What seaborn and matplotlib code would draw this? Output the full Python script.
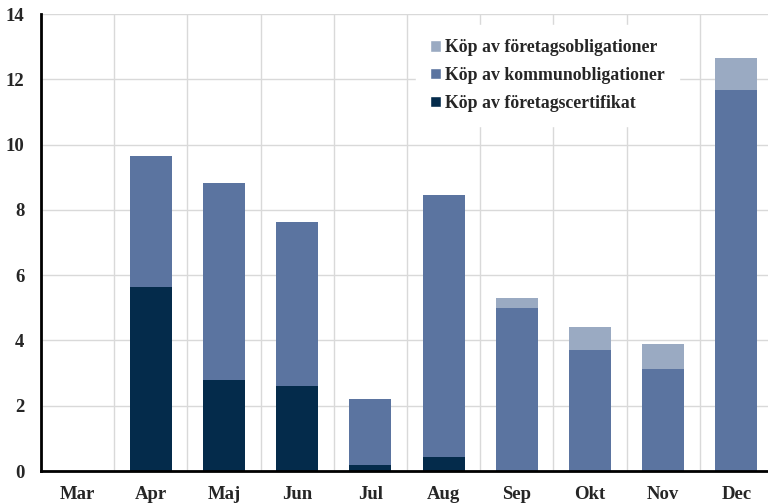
import matplotlib
matplotlib.use("Agg")
import matplotlib.pyplot as plt
import seaborn as sns
import numpy as np
import pandas as pd
from matplotlib.patches import Patch

months = ["Mar", "Apr", "Maj", "Jun", "Jul", "Aug", "Sep", "Okt", "Nov", "Dec"]
certifikat = [0.0, 5.64, 2.79, 2.60, 0.18, 0.43, 0.0, 0.0, 0.0, 0.0]
kommun = [0.0, 4.01, 6.03, 5.03, 2.03, 8.03, 4.99, 3.71, 3.13, 11.67]
foretag = [0.0, 0.0, 0.0, 0.0, 0.0, 0.0, 0.31, 0.70, 0.76, 0.98]

labels = ["Köp av företagsobligationer", "Köp av kommunobligationer", "Köp av företagscertifikat"]
c_light, c_mid, c_dark = "#9aaac2", "#5b74a0", "#042b4b"

sns.set_theme(style="white")
plt.rcParams["font.family"] = ["Liberation Serif", "DejaVu Serif"]
plt.rcParams["font.weight"] = "bold"

df = pd.DataFrame({"month": months, "cert": certifikat, "kommun": kommun, "foretag": foretag})
df["lvl2"] = df["cert"] + df["kommun"]
df["lvl3"] = df["lvl2"] + df["foretag"]

fig = plt.figure(figsize=(7.68, 5.04), dpi=100)
ax = fig.add_axes([41/768, 33/504, 732/768, 457/504])

w = 0.575
sns.barplot(data=df, x="month", y="lvl3", color=c_light, width=w, saturation=1, ax=ax, zorder=3, edgecolor="none")
sns.barplot(data=df, x="month", y="lvl2", color=c_mid, width=w, saturation=1, ax=ax, zorder=3, edgecolor="none")
sns.barplot(data=df, x="month", y="cert", color=c_dark, width=w, saturation=1, ax=ax, zorder=3, edgecolor="none")

ax.set_xlim(-0.5, 9.5)
ax.set_ylim(0, 14)
ax.set_yticks(np.arange(0, 15, 2))
ax.set_xlabel("")
ax.set_ylabel("")

ax.set_xticks(np.arange(-0.5, 9.6, 1), minor=True)
ax.tick_params(axis="x", which="major", length=0, pad=11, labelsize=13.5)
ax.tick_params(axis="x", which="minor", direction="in", length=5, width=1.5, color="black")
ax.tick_params(axis="y", which="major", length=0, pad=12, labelsize=13.5)
for t in ax.get_xticklabels() + ax.get_yticklabels():
    t.set_fontweight("bold")

ax.grid(True, axis="y", which="major", color="#d9d9d9", linewidth=1, zorder=0)
ax.grid(True, axis="x", which="minor", color="#d9d9d9", linewidth=1, zorder=0)
ax.grid(False, axis="x", which="major")
ax.set_axisbelow(True)

for s in ["top", "right"]:
    ax.spines[s].set_visible(False)
for s in ["left", "bottom"]:
    ax.spines[s].set_color("black")
    ax.spines[s].set_linewidth(2)
    ax.spines[s].set_zorder(5)

handles = [Patch(facecolor=c_light), Patch(facecolor=c_mid), Patch(facecolor=c_dark)]
leg = ax.legend(handles, labels, loc="upper left", bbox_to_anchor=(0.50, 0.995),
                frameon=True, fancybox=False, framealpha=1, edgecolor="white",
                handlelength=0.6, handleheight=0.6, handletextpad=0.25,
                labelspacing=0.6, borderpad=0.8, prop={"weight": "bold", "size": 12.8})
leg.set_zorder(6)

fig.savefig("out.png", dpi=100)
